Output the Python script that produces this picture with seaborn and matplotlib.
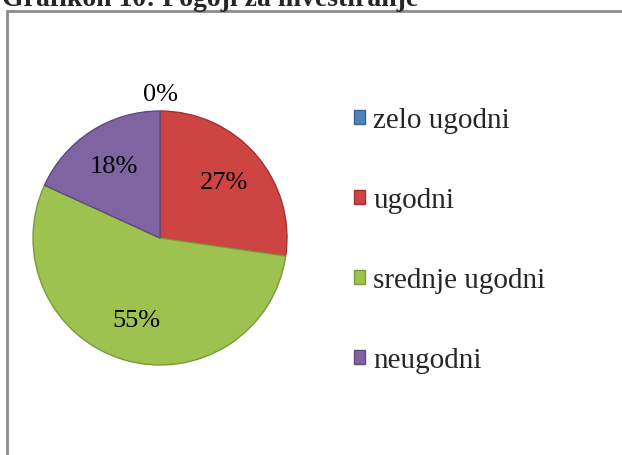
import numpy as np
import matplotlib
matplotlib.use("Agg")
import matplotlib.pyplot as plt
import seaborn as sns
from matplotlib.patches import Rectangle

# data
categories = ["zelo ugodni", "ugodni", "srednje ugodni", "neugodni"]
counts = [0, 3, 6, 2]
colors = ["#4F81BD", "#CD4443", "#9DC24F", "#8064A2"]
edge_colors = ["#3A6496", "#9E3331", "#7A9A3A", "#5F4A7E"]
title = "Grafikon 10: Pogoji za investiranje"

sns.set_style("white")
plt.rcParams["font.family"] = ["Liberation Serif", "DejaVu Serif"]

W, H = 622, 456
fig = plt.figure(figsize=(W / 100, H / 100), dpi=100)

# outer frame (gray border, cut off at right and bottom)
fig.patches.append(Rectangle((7 / W, -0.1), 1.2, (H - 12) / H + 0.1,
                             transform=fig.transFigure, fill=False,
                             edgecolor="#8c8c8c", linewidth=2))

# title, partly cut off at the top like in the source
fig.text(2 / W, 1 - 6 / H, title, fontsize=20, fontweight="bold",
         va="baseline", ha="left")

# pie
cx, cy, r = 160, 239, 127
ax = fig.add_axes([(cx - r) / W, (H - cy - r) / H, 2 * r / W, 2 * r / H])
wedges, texts, autotexts = ax.pie(
    counts, colors=colors, startangle=90, counterclock=False,
    autopct="%1.0f%%", pctdistance=0.67,
    wedgeprops=dict(linewidth=1.0),
    textprops=dict(fontsize=19, color="black"),
)
for w, ec in zip(wedges, edge_colors):
    w.set_edgecolor(ec)
# zero slice label sits outside the pie
for w, t, c in zip(wedges, autotexts, counts):
    if c == 0:
        ang = np.deg2rad(w.theta1)
        t.set_position((1.13 * np.cos(ang), 1.13 * np.sin(ang)))
ax.set_xlim(-1, 1)
ax.set_ylim(-1, 1)
ax.set_aspect("equal")
ax.axis("off")

# legend
leg = fig.legend(wedges, categories, loc="upper left",
                 bbox_to_anchor=(328 / W, 1 - 82 / H),
                 frameon=False, fontsize=21, handlelength=0.36,
                 handleheight=0.36, handletextpad=0.3, labelspacing=1.85)
for h, ec in zip(leg.legend_handles, edge_colors):
    h.set_edgecolor(ec)

fig.savefig("out.png", dpi=100)
